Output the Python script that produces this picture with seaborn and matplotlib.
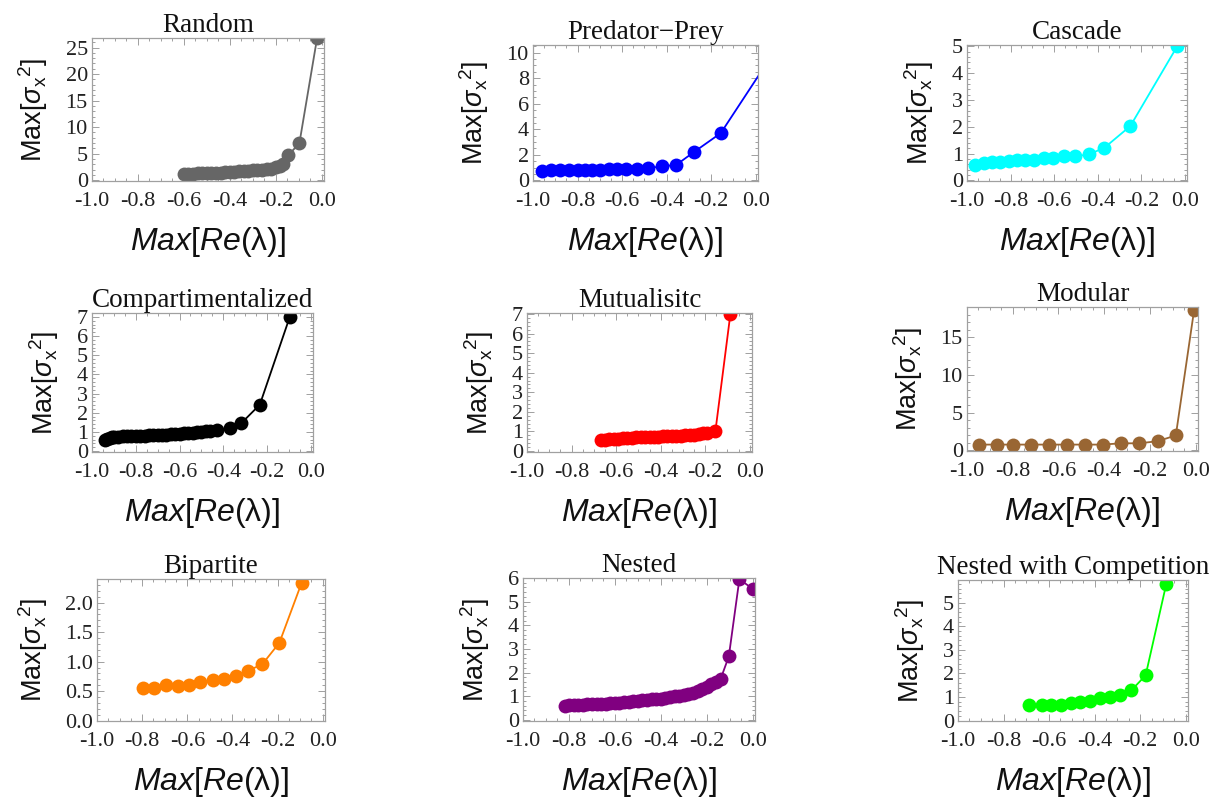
import numpy as np
import pandas as pd
import matplotlib
matplotlib.use("Agg")
import matplotlib.pyplot as plt
import seaborn as sns
from matplotlib.ticker import MultipleLocator, AutoMinorLocator, FormatStrFormatter

# ---------------- data ----------------
titles = ["Random", "Predator\u2212Prey", "Cascade",
          "Compartimentalized", "Mutualisitc", "Modular",
          "Bipartite", "Nested", "Nested with Competition"]
colors = ["#666666", "#0000ff", "#00ffff",
          "#000000", "#ff0000", "#996633",
          "#ff8000", "#800080", "#00ff00"]

random_x = [-0.60, -0.58, -0.56, -0.54, -0.52, -0.50, -0.48, -0.46, -0.44, -0.42,
            -0.40, -0.38, -0.36, -0.34, -0.32, -0.30, -0.28, -0.26, -0.24, -0.22,
            -0.20, -0.18, -0.17, -0.145, -0.097, -0.02]
random_y = [1.2, 1.2, 1.25, 1.3, 1.3, 1.35, 1.4, 1.4, 1.45, 1.5,
            1.55, 1.6, 1.65, 1.7, 1.8, 1.85, 1.9, 2.0, 2.1, 2.2,
            2.4, 2.7, 3.0, 4.7, 7.0, 26.8]

predprey_x = [-0.958, -0.918, -0.879, -0.840, -0.800, -0.767, -0.734, -0.701, -0.660,
              -0.624, -0.582, -0.533, -0.484, -0.422, -0.358, -0.279, -0.157, 0.05]
predprey_y = [0.72, 0.80, 0.80, 0.80, 0.80, 0.80, 0.80, 0.82, 0.87,
              0.88, 0.90, 0.92, 0.95, 1.10, 1.20, 2.20, 3.70, 9.2]

cascade_x = [-0.962, -0.923, -0.885, -0.847, -0.809, -0.770, -0.732, -0.691,
             -0.648, -0.605, -0.556, -0.505, -0.441, -0.369, -0.250, -0.035]
cascade_y = [0.59, 0.66, 0.68, 0.67, 0.74, 0.75, 0.75, 0.76,
             0.82, 0.83, 0.90, 0.90, 0.97, 1.22, 2.03, 5.0]

compart_x = [-0.94, -0.93, -0.92, -0.91, -0.90, -0.88, -0.86, -0.84, -0.82, -0.80,
             -0.78, -0.76, -0.74, -0.72, -0.70, -0.68, -0.66, -0.64, -0.62, -0.60,
             -0.58, -0.56, -0.54, -0.52, -0.50, -0.48, -0.46, -0.43,
             -0.370, -0.317, -0.233, -0.096]
compart_y = [0.60, 0.65, 0.70, 0.72, 0.74, 0.75, 0.76, 0.77, 0.78, 0.79,
             0.80, 0.81, 0.82, 0.83, 0.84, 0.85, 0.86, 0.87, 0.88, 0.90,
             0.92, 0.93, 0.95, 0.97, 1.00, 1.02, 1.05, 1.10,
             1.19, 1.46, 2.42, 7.0]

mutual_x = [-0.668, -0.65, -0.63, -0.61, -0.59, -0.57, -0.55, -0.53, -0.51, -0.49,
            -0.47, -0.45, -0.43, -0.41, -0.39, -0.37, -0.35, -0.33, -0.31, -0.29,
            -0.27, -0.25, -0.23, -0.21, -0.19, -0.154, -0.087]
mutual_y = [0.55, 0.57, 0.59, 0.61, 0.63, 0.65, 0.67, 0.69, 0.70, 0.71,
            0.72, 0.73, 0.73, 0.74, 0.75, 0.76, 0.77, 0.78, 0.79, 0.80,
            0.81, 0.83, 0.86, 0.90, 0.94, 1.04, 7.0]

modular_x = [-0.949, -0.869, -0.799, -0.721, -0.643, -0.563, -0.483,
             -0.406, -0.328, -0.246, -0.167, -0.087, -0.007]
modular_y = [0.75, 0.75, 0.75, 0.75, 0.75, 0.75, 0.75,
             0.75, 0.92, 0.92, 1.2, 1.96, 18.6]

bipart_x = [-0.796, -0.746, -0.693, -0.642, -0.591, -0.543, -0.488,
            -0.437, -0.385, -0.333, -0.267, -0.192, -0.093]
bipart_y = [0.555, 0.555, 0.60, 0.58, 0.61, 0.65, 0.69,
            0.71, 0.76, 0.84, 0.96, 1.32, 2.34]

nested_x = [-0.819, -0.80, -0.78, -0.76, -0.74, -0.72, -0.70, -0.68, -0.66, -0.64,
            -0.62, -0.60, -0.58, -0.56, -0.54, -0.52, -0.50, -0.48, -0.46, -0.44,
            -0.42, -0.40, -0.38, -0.36, -0.34, -0.32, -0.30, -0.28, -0.26, -0.24,
            -0.22, -0.20, -0.18, -0.16, -0.14, -0.104, -0.058, 0.0]
nested_y = [0.60, 0.61, 0.62, 0.63, 0.64, 0.65, 0.66, 0.67, 0.68, 0.69,
            0.70, 0.71, 0.72, 0.74, 0.76, 0.78, 0.80, 0.82, 0.84, 0.86,
            0.88, 0.90, 0.93, 0.96, 0.99, 1.02, 1.06, 1.10, 1.15, 1.22,
            1.30, 1.40, 1.52, 1.62, 1.72, 2.68, 5.95, 5.54]

nwc_x = [-0.688, -0.631, -0.590, -0.546, -0.505, -0.466, -0.422,
         -0.378, -0.334, -0.287, -0.239, -0.176, -0.085]
nwc_y = [0.67, 0.67, 0.67, 0.67, 0.75, 0.78, 0.85,
         0.95, 1.02, 1.09, 1.28, 1.92, 5.82]

series_x = [random_x, predprey_x, cascade_x, compart_x, mutual_x, modular_x,
            bipart_x, nested_x, nwc_x]
series_y = [random_y, predprey_y, cascade_y, compart_y, mutual_y, modular_y,
            bipart_y, nested_y, nwc_y]

# ---------------- layout / style ----------------
ylims = [(-0.15, 26.8), (-0.05, 10.6), (-0.02, 5.05),
         (-0.05, 7.2), (-0.05, 7.05), (-0.1, 19.0),
         (-0.005, 2.4), (-0.05, 6.0), (-0.02, 5.97)]
ymajor = [5, 2, 1, 1, 1, 5, 0.5, 1, 1]
yminor_n = [5, 4, 5, 5, 5, 5, 5, 5, 5]
yfmt = ["%d", "%d", "%d", "%d", "%d", "%d", "%.1f", "%d", "%d"]
# frame boxes in pixels (left, right, top, bottom)
boxes = [(92, 324, 38, 181), (533, 758, 45, 181), (967, 1187, 45, 181),
         (92, 313, 313, 452), (527, 752, 313, 452), (967, 1198, 307, 451),
         (97, 325, 579, 721), (523, 755, 578, 721), (958, 1188, 580, 721)]

sns.set_theme(style="ticks")
plt.rcParams["font.family"] = ["Liberation Serif", "DejaVu Serif"]
plt.rcParams["mathtext.fontset"] = "custom"
plt.rcParams["mathtext.rm"] = "Liberation Sans"
plt.rcParams["mathtext.it"] = "Liberation Sans:italic"
plt.rcParams["mathtext.bf"] = "Liberation Sans:bold"

W, H = 1221, 800
fig = plt.figure(figsize=(W / 100, H / 100), dpi=100)
frame_col = "#a0a0a0"

for i in range(9):
    l, r, t, b = boxes[i]
    ax = fig.add_axes([l / W, 1 - b / H, (r - l) / W, (b - t) / H])
    df = pd.DataFrame({"x": series_x[i], "y": series_y[i]})
    sns.lineplot(data=df, x="x", y="y", ax=ax, color=colors[i], sort=False,
                 estimator=None, marker="o", markersize=10, markeredgewidth=0,
                 linewidth=1.3)
    ax.set_xlim(-1.0, 0.01)
    ax.set_ylim(*ylims[i])
    ax.xaxis.set_major_locator(MultipleLocator(0.2))
    ax.xaxis.set_minor_locator(AutoMinorLocator(4))
    ax.xaxis.set_major_formatter(FormatStrFormatter("%.1f"))
    ax.yaxis.set_major_locator(MultipleLocator(ymajor[i]))
    ax.yaxis.set_minor_locator(AutoMinorLocator(yminor_n[i]))
    ax.yaxis.set_major_formatter(FormatStrFormatter(yfmt[i]))
    for s in ax.spines.values():
        s.set_visible(True)
        s.set_color(frame_col)
        s.set_linewidth(0.9)
    ax.tick_params(which="both", direction="in", top=True, right=True,
                   color=frame_col, width=0.7, labelsize=16,
                   labelcolor="#222222")
    ax.tick_params(axis="x", which="both", pad=8)
    ax.tick_params(axis="y", which="both", pad=3)
    ax.tick_params(which="major", length=5)
    ax.tick_params(which="minor", length=2.5)
    ax.set_title(titles[i], fontsize=19.5, pad=3, color="#111111")
    ax.set_xlabel(r"$\mathit{Max}[\mathit{Re}(\mathrm{\lambda})]$", fontsize=23,
                  labelpad=10, color="#111111")
    ax.set_ylabel(r"$\mathrm{Max}[\sigma_{\mathrm{x}}{}^{2}]$", fontsize=19.5,
                  labelpad=11, color="#111111")

fig.savefig("out.png", dpi=100, facecolor="white")
